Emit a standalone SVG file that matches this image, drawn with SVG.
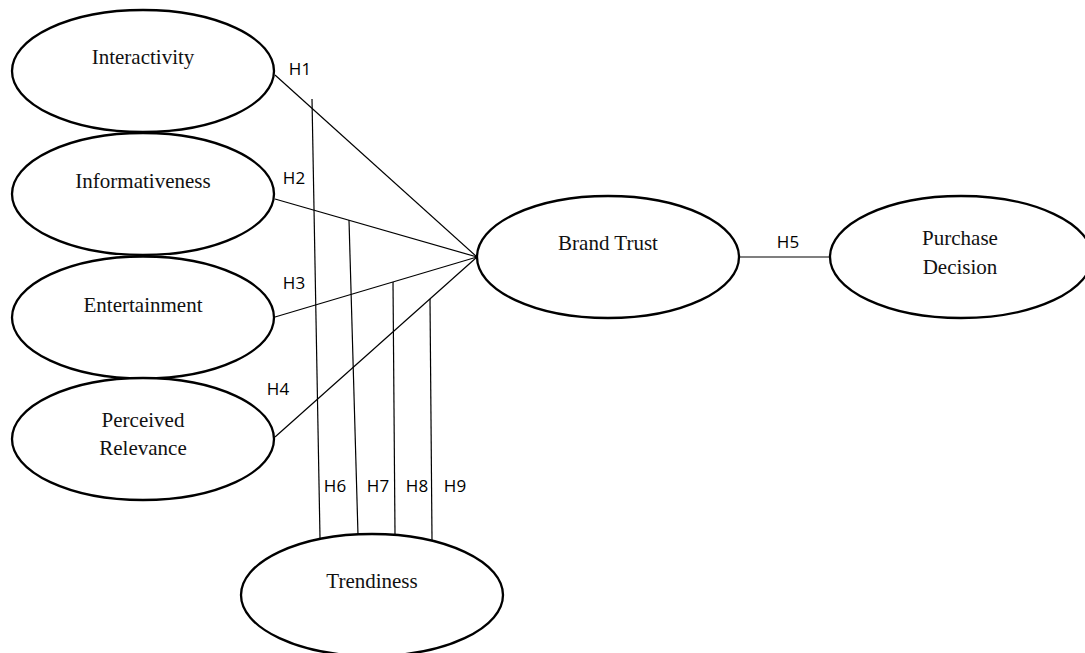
<svg xmlns="http://www.w3.org/2000/svg" width="1085" height="653" viewBox="0 0 1085 653">
<style>
.node{fill:#fff;stroke:#000;stroke-width:2.3}
.nt{font-family:"Liberation Serif","Times New Roman",serif;font-size:21px;fill:#111;text-anchor:middle}
.lab{font-family:"Open Sans","Noto Sans",sans-serif;font-size:17px;fill:#000;text-anchor:middle}
.edge{stroke:#000;stroke-width:1.2;fill:none}
</style>
<rect width="1085" height="653" fill="#fff"/>
<g id="connectors">
<line class="edge" x1="275" y1="75" x2="477" y2="257"/>
<line class="edge" x1="275" y1="199" x2="477" y2="257"/>
<line class="edge" x1="275" y1="317" x2="477" y2="257"/>
<line class="edge" x1="275" y1="437" x2="477" y2="257"/>
<line class="edge" x1="739" y1="257" x2="830" y2="257"/>
<line class="edge" x1="312" y1="99" x2="320" y2="538"/>
<line class="edge" x1="349" y1="220" x2="358" y2="535"/>
<line class="edge" x1="393" y1="282" x2="395" y2="534"/>
<line class="edge" x1="430" y1="299" x2="432" y2="540"/>
<text class="lab" x="300" y="75">H1</text>
<text class="lab" x="294" y="184">H2</text>
<text class="lab" x="294" y="289">H3</text>
<text class="lab" x="278" y="395">H4</text>
<text class="lab" x="788" y="248">H5</text>
<text class="lab" x="335" y="492">H6</text>
<text class="lab" x="378" y="492">H7</text>
<text class="lab" x="417" y="492">H8</text>
<text class="lab" x="455" y="492">H9</text>
</g>
<g id="interactivity">
<ellipse class="node" cx="143" cy="71" rx="131" ry="61"/>
<text class="nt" x="143" y="64">Interactivity</text>
</g>
<g id="informativeness">
<ellipse class="node" cx="143" cy="194" rx="131" ry="61"/>
<text class="nt" x="143" y="188">Informativeness</text>
</g>
<g id="entertainment">
<ellipse class="node" cx="143" cy="317.5" rx="131" ry="61"/>
<text class="nt" x="143" y="312">Entertainment</text>
</g>
<g id="perceived-relevance">
<ellipse class="node" cx="143" cy="439" rx="131" ry="61"/>
<text class="nt" x="143" y="427">Perceived</text>
<text class="nt" x="143" y="455">Relevance</text>
</g>
<g id="brand-trust">
<ellipse class="node" cx="608" cy="257" rx="131" ry="61"/>
<text class="nt" x="608" y="250">Brand Trust</text>
</g>
<g id="purchase-decision">
<ellipse class="node" cx="961" cy="257" rx="131" ry="61"/>
<text class="nt" x="960" y="245">Purchase</text>
<text class="nt" x="960" y="274">Decision</text>
</g>
<g id="trendiness">
<ellipse class="node" cx="372" cy="595" rx="131" ry="61"/>
<text class="nt" x="372" y="588">Trendiness</text>
</g>
</svg>
